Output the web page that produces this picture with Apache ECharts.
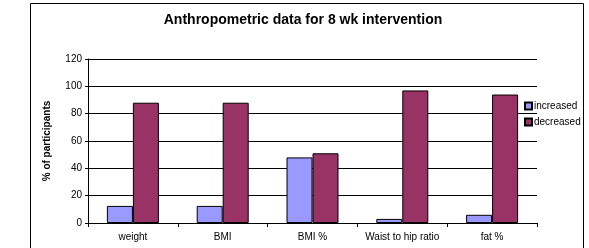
<!DOCTYPE html>
<html>
<head>
<meta charset="utf-8">
<script src="https://cdn.jsdelivr.net/npm/echarts@6/dist/echarts.min.js"></script>
<style>
  html, body { margin: 0; padding: 0; background: #fff; }
  #chart { width: 589px; height: 248px; }
</style>
</head>
<body>
<div id="chart"></div>
<script>
// categories along the x axis
var categories = ['weight', 'BMI', 'BMI %', 'Waist to hip ratio', 'fat %'];
// % of participants per group
var increased = [12.5, 12.5, 48, 3, 6];
var decreased = [88, 88, 51, 97, 94];

var chart = echarts.init(document.getElementById('chart'));

var option = {
    animation: false,
    textStyle: { fontFamily: 'Liberation Sans, Arial, sans-serif' },
    // outer frame of the chart area
    graphic: [{
        type: 'rect',
        shape: { x: 30.5, y: 3.5, width: 553, height: 260 },
        style: { fill: 'none', stroke: '#000', lineWidth: 1 },
        silent: true
    }],
    title: {
        text: 'Anthropometric data for 8 wk intervention',
        left: 298,
        top: 8,
        textAlign: 'center',
        textStyle: { fontSize: 14, fontWeight: 'bold', color: '#000' }
    },
    legend: {
        orient: 'vertical',
        left: 519,
        top: 96,
        itemWidth: 7,
        itemHeight: 7,
        itemGap: 6,
        icon: 'rect',
        textStyle: { fontSize: 10, color: '#000', padding: [0, 0, 0, -3] },
        data: ['increased', 'decreased']
    },
    grid: { left: 88, right: 52, top: 59, bottom: 25 },
    xAxis: {
        type: 'category',
        data: categories,
        axisLine: { lineStyle: { color: '#000' } },
        axisTick: { show: true, alignWithLabel: false, length: 4, lineStyle: { color: '#000' } },
        axisLabel: { fontSize: 10, color: '#000', margin: 9, interval: 0, hideOverlap: false }
    },
    yAxis: {
        type: 'value',
        min: 0,
        max: 120,
        interval: 20,
        name: '% of participants',
        nameLocation: 'middle',
        nameGap: 36,
        nameTextStyle: { fontSize: 10, fontWeight: 'bold', color: '#000' },
        axisLine: { show: true, lineStyle: { color: '#000' } },
        axisTick: { show: true, length: 3, lineStyle: { color: '#000' } },
        axisLabel: { fontSize: 10, color: '#000', margin: 6 },
        splitLine: { lineStyle: { color: '#000', width: 1 } }
    },
    series: [{
        name: 'increased',
        type: 'bar',
        data: increased,
        barWidth: 26,
        barGap: '0%',
        itemStyle: { color: '#9999FF', borderColor: '#000', borderWidth: 1 }
    }, {
        name: 'decreased',
        type: 'bar',
        data: decreased,
        barWidth: 26,
        itemStyle: { color: '#993366', borderColor: '#000', borderWidth: 1 }
    }]
};

chart.setOption(option);
</script>
</body>
</html>
